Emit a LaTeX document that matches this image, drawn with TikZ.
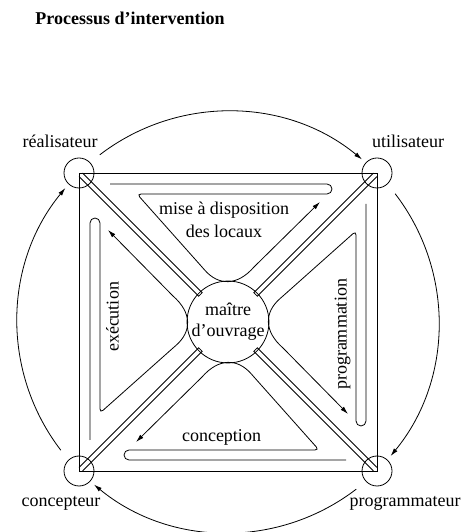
\documentclass[tikz,border=0pt]{standalone}
\usepackage{fontspec}
\setmainfont{Liberation Serif}
\usetikzlibrary{arrows.meta}
\begin{document}
\begin{tikzpicture}[x=1pt,y=1pt,
  line/.style={line width=0.8pt},
  tip/.style={-{Latex[length=8pt,width=4.5pt]}},
  lbl/.style={font=\fontsize{18}{23}\selectfont, inner sep=0pt, align=center},
  corner/.style={circle, draw, line width=0.8pt, minimum size=30pt, inner sep=0pt},
  hub/.style={circle, draw, line width=0.8pt, minimum size=68pt, inner sep=0pt, align=center, font=\fontsize{18}{21}\selectfont}]
\useasboundingbox (0,0) rectangle (466,532);
\coordinate (C) at (228,210);

% title
\node[lbl, font=\fontsize{18}{22}\selectfont\bfseries] (title) at (130,514) {Processus d'intervention};

% corner circles
\node[corner] (rea) at (79,359) {};
\node[corner] (uti) at (377,359) {};
\node[corner] (pro) at (377,61) {};
\node[corner] (con) at (79,61) {};

% square
\draw[line] (rea.center) -- (uti.center) -- (pro.center) -- (con.center) -- cycle;

% diagonal bands
\foreach \a in {45,135,225,315} {
  \draw[line, shift={(C)}, rotate=\a] (208.2,2.5) -- (39,2.5) -- (39,-2.5) -- (208.2,-2.5);
}

% central circle
\node[hub] (hub) at (C) {maître\\d'ouvrage};

% outer circle arcs
\foreach \s/\e in {127.5/50.5, 37.5/-39.5, -52.5/-129.5, -142.5/-219.5} {
  \draw[line, tip, shift={(C)}] (\s:210.7) arc[start angle=\s, end angle=\e, radius=210.7];
}

% hook arrows
\foreach \a in {0,-90,-180,-270} {
  \draw[line, tip, shift={(C)}, rotate=\a]
    (-118,138) -- (99,138) arc[start angle=90, end angle=-90, radius=5]
    [rounded corners=4pt] -- (-91,128) -- (-26,55) [sharp corners]
    .. controls (-9.4,36) and (9.4,36) .. (26,55) -- (92,120);
}

% labels
\node[lbl] (lrea) at (60,391) {réalisateur};
\node[lbl] (luti) at (408,391) {utilisateur};
\node[lbl] (lcon) at (61,29) {concepteur};
\node[lbl] (lpro) at (405,29) {programmateur};
\node[lbl] (lmise) at (224,312.5) {mise à disposition\\des locaux};
\node[lbl, rotate=90] (lexe) at (112.5,215) {exécution};
\node[lbl, rotate=90] (lprog) at (342.5,197.5) {programmation};
\node[lbl] (lconc) at (221.5,94.5) {conception};
\end{tikzpicture}
\end{document}
